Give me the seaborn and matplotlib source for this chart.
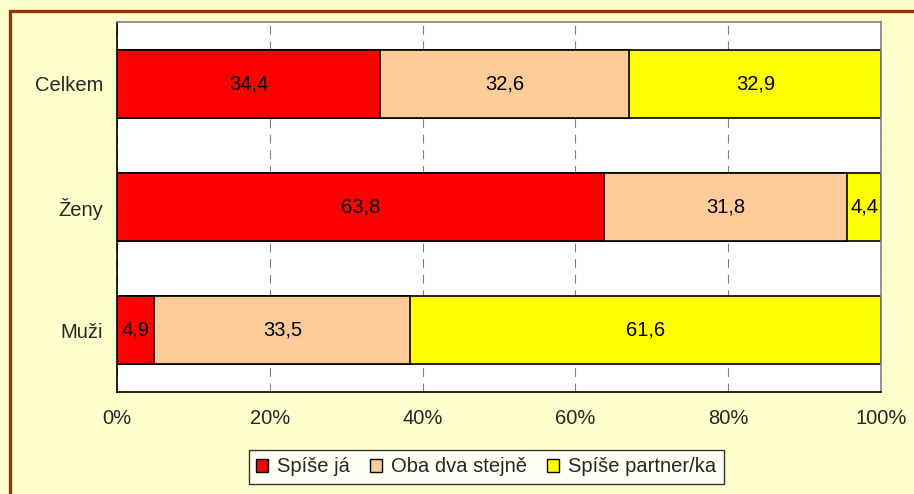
import numpy as np
import pandas as pd
import matplotlib
matplotlib.use("Agg")
import matplotlib.pyplot as plt
import seaborn as sns
from matplotlib.patches import Rectangle

# data
skupiny = ["Celkem", "Ženy", "Muži"]
spise_ja = [34.4, 63.8, 4.9]
oba_dva = [32.6, 31.8, 33.5]
spise_partner = [32.9, 4.4, 61.6]
serie = ["Spíše já", "Oba dva stejně", "Spíše partner/ka"]
barvy = ["#FF0000", "#FFCC99", "#FFFF00"]
x_ticks = [0, 20, 40, 60, 80, 100]

sns.set_theme(style="white")
plt.rcParams["font.family"] = ["Liberation Sans", "DejaVu Sans"]
fs = 14.5

df = pd.DataFrame({"skupina": skupiny, "a": spise_ja, "b": oba_dva, "c": spise_partner})
total = df[["a", "b", "c"]].sum(axis=1)
df["cum1"] = df["a"] / total * 100
df["cum2"] = (df["a"] + df["b"]) / total * 100
df["cum3"] = 100.0

fig = plt.figure(figsize=(9.14, 4.94), dpi=100, facecolor="#FFFFCC")
ax = fig.add_axes([0.128, 0.2065, 0.836, 0.7485])
ax.set_facecolor("white")

# stacked bars drawn as overlaid cumulative sums
for col, barva in zip(["cum3", "cum2", "cum1"], barvy[::-1]):
    sns.barplot(data=df, x=col, y="skupina", orient="h", color=barva,
                edgecolor="black", linewidth=1.2, width=0.55, saturation=1, ax=ax)

# value labels
for i, row in df.iterrows():
    starts = [0, row["cum1"], row["cum2"]]
    ends = [row["cum1"], row["cum2"], row["cum3"]]
    vals = [row["a"], row["b"], row["c"]]
    for s, e, v in zip(starts, ends, vals):
        ax.text((s + e) / 2, i, f"{v:.1f}".replace(".", ","), ha="center", va="center",
                fontsize=fs, color="black")

ax.set_xlim(0, 100)
ax.set_ylim(2.5, -0.5)
ax.set_xticks(x_ticks)
ax.set_xticklabels([f"{t}%" for t in x_ticks], fontsize=fs)
ax.set_xlabel("")
ax.set_ylabel("")
ax.tick_params(axis="y", which="major", length=0, labelsize=fs, pad=10)
ax.set_yticks([-0.5, 0.5, 1.5, 2.5], minor=True)
ax.tick_params(axis="y", which="minor", length=5, direction="out", color="black", width=1)
ax.tick_params(axis="x", which="major", length=5, direction="out", color="black", width=1, pad=7)
ax.xaxis.grid(True, color="#808080", linestyle=(0, (8, 6)), linewidth=0.8)
ax.set_axisbelow(True)

for s in ["left", "bottom"]:
    ax.spines[s].set_color("black")
    ax.spines[s].set_linewidth(1.2)
for s in ["top", "right"]:
    ax.spines[s].set_color("#808080")
    ax.spines[s].set_linewidth(1.2)

handles = [Rectangle((0, 0), 1, 1, facecolor=b, edgecolor="black", linewidth=1) for b in barvy]
leg = fig.legend(handles, serie, loc="center", bbox_to_anchor=(0.532, 0.0547), ncol=3,
                 fontsize=fs, frameon=True, fancybox=False, edgecolor="black",
                 handlelength=0.6, handleheight=0.6, handletextpad=0.45, columnspacing=1.0,
                 borderpad=0.35)
leg.get_frame().set_linewidth(1)
leg.get_frame().set_facecolor("white")

# brown chart border (right and bottom edges lie outside the picture)
fig.patches.append(Rectangle((9.5 / 914, -0.1), 1.2, 1.1 - 11.5 / 494, transform=fig.transFigure,
                             facecolor="none", edgecolor="#993300", linewidth=2.4))

fig.savefig("out.png", dpi=100, facecolor=fig.get_facecolor())
